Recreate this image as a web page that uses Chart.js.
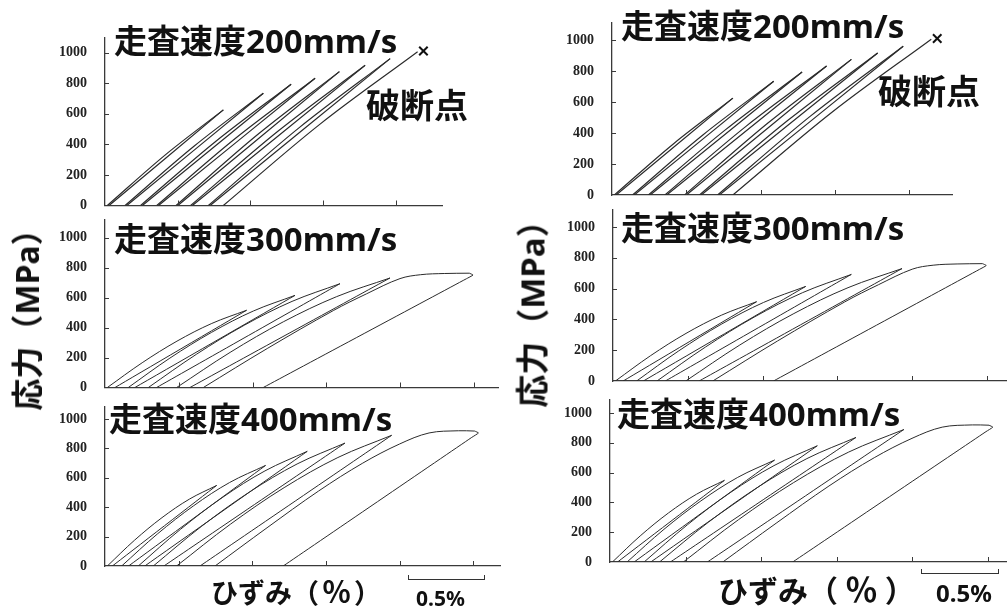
<!DOCTYPE html>
<html>
<head>
<meta charset="utf-8">
<script src="https://cdn.jsdelivr.net/npm/chart.js@4.4.0/dist/chart.umd.min.js"></script>
<style>
  html, body { margin: 0; padding: 0; background: #fff; }
  #stage { position: relative; width: 1007px; height: 613px; overflow: hidden; background: #fff; }
  #stage canvas { position: absolute; left: 0; top: 0; }
  .t { position: absolute; white-space: nowrap; color: #111; line-height: 1;
       font-family: "Noto Sans", "Noto Sans CJK JP", sans-serif; font-weight: 700; }
  .cjk { font-family: "Noto Sans CJK JP", sans-serif; }
  .ylab { transform: translate(-50%, -50%) rotate(-90deg); }
  .pct { font-size: 1.08em; margin: 0 0.1em; }
  .bar { position: absolute; border: 1.5px solid #333; border-top: none; height: 4px; }
</style>
</head>
<body>
<div id="stage">
  <canvas id="c200L" width="1007" height="613"></canvas>
  <canvas id="c300L" width="1007" height="613"></canvas>
  <canvas id="c400L" width="1007" height="613"></canvas>
  <canvas id="c200R" width="1007" height="613"></canvas>
  <canvas id="c300R" width="1007" height="613"></canvas>
  <canvas id="c400R" width="1007" height="613"></canvas>

  <!-- left column captions -->
  <div class="t" style="left:114px;top:24px;font-size:33px;">走査速度200mm/s</div>
  <div class="t cjk" style="left:366px;top:87px;font-size:34px;">破断点</div>
  <div class="t" style="left:114px;top:222px;font-size:33px;">走査速度300mm/s</div>
  <div class="t" style="left:109px;top:402px;font-size:33px;">走査速度400mm/s</div>
  <div class="t ylab" style="left:27px;top:312px;font-size:32px;">応力（MPa）</div>
  <div class="t cjk" style="left:211px;top:576px;font-size:27px;">ひずみ（<span class="pct">％</span>）</div>
  <div class="bar" style="left:408px;top:575px;width:75px;"></div>
  <div class="t" style="left:416px;top:588px;font-size:21px;">0.5%</div>

  <!-- right column captions -->
  <div class="t" style="left:621px;top:9px;font-size:33px;">走査速度200mm/s</div>
  <div class="t cjk" style="left:878px;top:73px;font-size:34px;">破断点</div>
  <div class="t" style="left:621px;top:211px;font-size:33px;">走査速度300mm/s</div>
  <div class="t" style="left:617px;top:397px;font-size:33px;">走査速度400mm/s</div>
  <div class="t ylab" style="left:532px;top:306px;font-size:33px;">応力（MPa）</div>
  <div class="t cjk" style="left:718px;top:572px;font-size:30px;">ひずみ（<span class="pct" style="margin:0 0.22em;">％</span>）</div>
  <div class="bar" style="left:921px;top:569px;width:76px;"></div>
  <div class="t" style="left:936px;top:581px;font-size:24px;">0.5%</div>
</div>

<script>
// Axis tick values (stress in MPa, strain in %)
const stressTicks = [0, 200, 400, 600, 800, 1000];
const strainTicks = [0.5, 1.0, 1.5, 2.0, 2.5];

// Scan speed 200 mm/s: loading branches [strain %, stress MPa]
const scan200Loading = [
  [[0.016, 0], [0.415, 331], [0.814, 625]],
  [[0.138, 0], [0.614, 389], [1.089, 734]],
  [[0.245, 0], [0.763, 420], [1.280, 793]],
  [[0.356, 0], [0.900, 441], [1.445, 832]],
  [[0.489, 0], [1.050, 464], [1.612, 875]],
  [[0.589, 0], [1.189, 485], [1.789, 916]],
  [[0.711, 0], [1.336, 509], [1.961, 960]],
  [[0.814, 0], [1.479, 532], [2.150, 1005]]
];
// Scan speed 200 mm/s: unloading branches
const scan200Unloading = [
  [[0.814, 625], [0.028, 0]],
  [[1.089, 734], [0.150, 0]],
  [[1.280, 793], [0.257, 0]],
  [[1.445, 832], [0.368, 0]],
  [[1.612, 875], [0.501, 0]],
  [[1.789, 916], [0.601, 0]],
  [[1.961, 960], [0.723, 0]]
];
// Fracture point of the last cycle
const scan200Break = [[2.19, 1010]];

// Scan speed 300 mm/s
const scan300Loading = [
  [[0.016, 0], [0.252, 165], [0.488, 309], [0.724, 427], [0.960, 515]],
  [[0.158, 0], [0.440, 196], [0.723, 368], [1.006, 510], [1.288, 614]],
  [[0.294, 0], [0.619, 221], [0.944, 415], [1.268, 574], [1.593, 692]],
  [[0.486, 0], [0.848, 234], [1.209, 438], [1.571, 606], [1.932, 730]],
  [[0.667, 0], [1.100, 260], [1.548, 513], [1.774, 625], [2.000, 726], [2.140, 752], [2.300, 760], [2.470, 762]]
];
const scan300Unloading = [
  [[0.960, 515], [0.068, 0]],
  [[1.288, 614], [0.203, 0]],
  [[1.593, 692], [0.350, 0]],
  [[1.932, 730], [0.576, 0]],
  [[2.470, 762], [2.495, 750], [2.450, 725], [1.073, 0]]
];

// Scan speed 400 mm/s
const scan400Loading = [
  [[0.016, 0], [0.200, 175], [0.387, 329], [0.573, 455], [0.758, 548]],
  [[0.113, 0], [0.357, 219], [0.602, 410], [0.846, 568], [1.090, 684]],
  [[0.226, 0], [0.513, 250], [0.800, 468], [1.086, 647], [1.373, 780]],
  [[0.328, 0], [0.653, 268], [0.979, 502], [1.304, 694], [1.629, 836]],
  [[0.486, 0], [0.851, 284], [1.216, 533], [1.581, 738], [1.946, 889]],
  [[0.747, 0], [1.100, 260], [1.450, 510], [1.750, 700], [2.000, 830], [2.200, 905], [2.400, 920], [2.510, 918]]
];
const scan400Unloading = [
  [[0.758, 548], [0.050, 0]],
  [[1.090, 684], [0.160, 0]],
  [[1.373, 780], [0.270, 0]],
  [[1.629, 836], [0.400, 0]],
  [[1.946, 889], [0.645, 0]],
  [[2.510, 918], [2.535, 905], [2.490, 875], [1.210, 0]]
];

// Panel geometry on the page: axis origin, axis top, x-axis end, and scale factors
const panels = [
  { id: 'c200L', load: scan200Loading, unload: scan200Unloading, brk: scan200Break, x0: 105, y0: 205.5, top: 38, right: 442, pxPct: 145.4, pxMPa: 0.153, lw: 1.2 },
  { id: 'c300L', load: scan300Loading, unload: scan300Unloading, brk: null, x0: 105, y0: 387.5, top: 220, right: 498, pxPct: 147.5, pxMPa: 0.150, lw: 1.0 },
  { id: 'c400L', load: scan400Loading, unload: scan400Unloading, brk: null, x0: 105, y0: 566, top: 407, right: 500, pxPct: 147.3, pxMPa: 0.147, lw: 1.0 },
  { id: 'c200R', load: scan200Loading, unload: scan200Unloading, brk: scan200Break, x0: 612, y0: 195, top: 23, right: 952, pxPct: 148.5, pxMPa: 0.155, lw: 1.2 },
  { id: 'c300R', load: scan300Loading, unload: scan300Unloading, brk: null, x0: 613, y0: 381, top: 210, right: 1007, pxPct: 149.6, pxMPa: 0.154, lw: 1.0 },
  { id: 'c400R', load: scan400Loading, unload: scan400Unloading, brk: null, x0: 610, y0: 562, top: 400, right: 1007, pxPct: 151, pxMPa: 0.149, lw: 1.0 }
];

const W = 1007, H = 613, Y_AXIS_W = 60, X_AXIS_H = 1;
const LINE = '#2b2b2b', AXIS = '#3a3a3a';

// Short tick marks drawn inward from both axes
const innerTicks = {
  id: 'innerTicks',
  afterDraw(chart) {
    const { ctx, scales: { x, y } } = chart;
    ctx.save();
    ctx.strokeStyle = AXIS;
    ctx.lineWidth = 1;
    strainTicks.forEach(v => {
      if (v > x.max) return;
      const px = Math.round(x.getPixelForValue(v)) + 0.5;
      ctx.beginPath(); ctx.moveTo(px, y.bottom); ctx.lineTo(px, y.bottom - 5); ctx.stroke();
    });
    stressTicks.forEach(v => {
      if (v === 0) return;
      const py = Math.round(y.getPixelForValue(v)) + 0.5;
      ctx.beginPath(); ctx.moveTo(x.left, py); ctx.lineTo(x.left + 4, py); ctx.stroke();
    });
    ctx.restore();
  }
};

panels.forEach(p => {
  const datasets = [];
  p.load.forEach(pts => datasets.push({
    data: pts, borderColor: LINE, borderWidth: p.lw, tension: 0.35, pointRadius: 0, fill: false
  }));
  p.unload.forEach(pts => datasets.push({
    data: pts, borderColor: LINE, borderWidth: p.lw, tension: 0.15, pointRadius: 0, fill: false
  }));
  if (p.brk) datasets.push({
    data: p.brk, showLine: false, pointStyle: 'crossRot', pointRadius: 6,
    pointBorderWidth: 2, pointBorderColor: '#111', pointBackgroundColor: '#111'
  });

  new Chart(document.getElementById(p.id), {
    type: 'line',
    data: { datasets },
    options: {
      responsive: false, animation: false, events: [],
      layout: { padding: { left: p.x0 - Y_AXIS_W, top: p.top, right: W - p.right, bottom: H - p.y0 - X_AXIS_H } },
      plugins: { legend: { display: false }, tooltip: { enabled: false } },
      scales: {
        x: {
          type: 'linear', min: 0, max: (p.right - p.x0) / p.pxPct,
          grid: { display: false },
          border: { display: true, color: AXIS, width: 1.3 },
          ticks: { display: false },
          afterFit: s => { s.height = X_AXIS_H; }
        },
        y: {
          type: 'linear', min: 0, max: (p.y0 - p.top) / p.pxMPa,
          grid: { display: false },
          border: { display: true, color: AXIS, width: 1.3 },
          afterBuildTicks: s => { s.ticks = stressTicks.map(v => ({ value: v })); },
          ticks: {
            padding: 10, color: '#222',
            font: { family: '"Liberation Serif", serif', weight: 'bold', size: 14 },
            callback: v => String(v)
          },
          afterFit: s => { s.width = Y_AXIS_W; }
        }
      }
    },
    plugins: [innerTicks]
  });
});
</script>
</body>
</html>
